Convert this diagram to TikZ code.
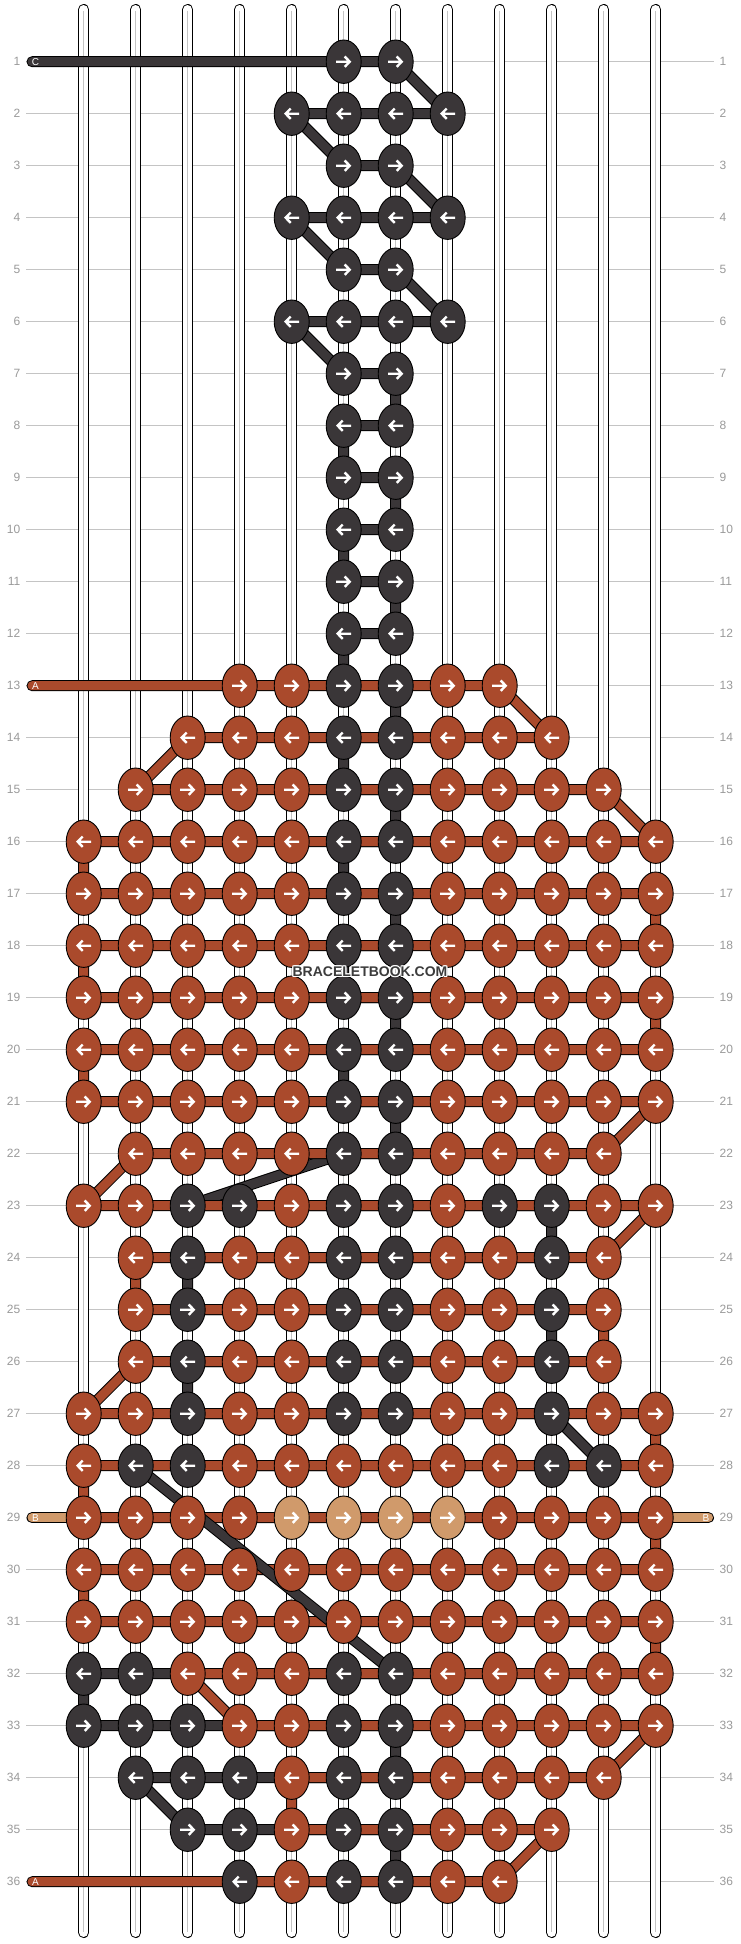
\documentclass[tikz,border=0pt]{standalone}
\usepackage{fontspec}
\setmainfont{Liberation Sans}
\usetikzlibrary{shapes.geometric}
\definecolor{cdark}{HTML}{3A3638}
\definecolor{crust}{HTML}{AA4A2C}
\definecolor{ctan}{HTML}{D09A6B}
\definecolor{cgrid}{HTML}{C4C4C4}
\definecolor{clab}{HTML}{9A9A9A}
\definecolor{cstr}{HTML}{C4C4C4}
\definecolor{cwm}{HTML}{3C3C3C}
\newcommand\mkknot[3]{%
  \node[knotnode=#3] (k-#1-#2) at (p-#1-#2) {};
  \ifodd#1\relax
    \draw[arrowline] (k-#1-#2.center) ++(-7.5,0) -- ++(13.5,0) (k-#1-#2.center) ++(1,-5.2) -- ++(5,5.2) -- ++(-5,5.2);
  \else
    \draw[arrowline] (k-#1-#2.center) ++(7.5,0) -- ++(-13.5,0) (k-#1-#2.center) ++(-1,-5.2) -- ++(-5,5.2) -- ++(5,5.2);
  \fi}
\newcommand\wmt{BRACELETBOOK.COM}
\newcommand\wmhalo{%
  \rlap{\color{white}\hspace*{-1.2pt}\wmt}\rlap{\color{white}\hspace*{1.2pt}\wmt}%
  \rlap{\color{white}\raisebox{1.2pt}{\wmt}}\rlap{\color{white}\raisebox{-1.2pt}{\wmt}}%
  \rlap{\color{white}\hspace*{-0.9pt}\raisebox{0.9pt}{\wmt}}\rlap{\color{white}\hspace*{0.9pt}\raisebox{0.9pt}{\wmt}}%
  \rlap{\color{white}\hspace*{-0.9pt}\raisebox{-0.9pt}{\wmt}}\rlap{\color{white}\hspace*{0.9pt}\raisebox{-0.9pt}{\wmt}}%
  {\color{cwm}\wmt}}
\begin{document}
\begin{tikzpicture}[x=1pt,y=-1pt,
  rowlab/.style={text=clab, font=\fontsize{12}{12}\selectfont, inner sep=0pt},
  gridline/.style={draw=cgrid, line width=1.3pt},
  stringout/.style={line width=11pt, line cap=round, draw=black},
  stringin/.style={line width=9pt, line cap=round, draw=white},
  stringmid/.style={line width=1.4pt, draw=cstr},
  thread/.style={line width=9pt, line cap=round, line join=round, draw=#1,
    preaction={draw=black, line width=11pt, line cap=round, line join=round}},
  knotnode/.style={ellipse, minimum width=35pt, minimum height=43.4pt, inner sep=0pt,
    draw=black, line width=0.9pt, fill=#1},
  arrowline/.style={draw=white, line width=2.4pt, line cap=butt, line join=miter},
  endlab/.style={text=white, font=\fontsize{10}{10}\selectfont, inner sep=0pt},
]
\useasboundingbox (0,0) rectangle (740,1944);
\fill[white] (0,0) rectangle (740,1944);

% grid coordinates, row lines and labels
\foreach \r in {1,...,36}{
  \pgfmathsetmacro\yy{61.7+52*(\r-1)}
  \foreach \c in {1,...,12}{\coordinate (p-\r-\c) at ({83.7+52*(\c-1)},\yy);}
  \coordinate (gl-\r) at (26,\yy);
  \coordinate (gr-\r) at (714,\yy);
  \draw[gridline] (gl-\r) -- (gr-\r);
  \node[rowlab, anchor=east] (ll-\r) at (20.5,\yy) {\r};
  \node[rowlab, anchor=west] (rl-\r) at (719.5,\yy) {\r};
}

% warp strings
\foreach \c in {1,...,12}{
  \pgfmathsetmacro\xx{83.7+52*(\c-1)}
  \coordinate (st-\c) at (\xx,9.5);
  \coordinate (sb-\c) at (\xx,1932.5);
  \draw[stringout] (st-\c) -- (sb-\c);
  \draw[stringin] (st-\c) -- (sb-\c);
  \draw[stringmid] ([yshift=-1pt]st-\c) -- ([yshift=1pt]sb-\c);
}

% thread ends
\coordinate (c-beg) at (32,61.7);
\coordinate (a-beg) at (32,685.7);
\coordinate (a-end) at (32,1881.7);
\coordinate (b-beg) at (32,1517.7);
\coordinate (b-end) at (708.5,1517.7);

% thread C
\draw[thread=cdark] (c-beg) -- (p-1-6) -- (p-1-7) -- (p-2-8) -- (p-2-5) -- (p-3-6) -- (p-3-7) -- (p-4-8) -- (p-4-5) -- (p-5-6) -- (p-5-7) -- (p-6-8) -- (p-6-5) -- (p-7-6) -- (p-7-7) -- (p-8-7) -- (p-8-6) -- (p-9-6) -- (p-9-7) -- (p-10-7) -- (p-10-6) -- (p-11-6) -- (p-11-7) -- (p-12-7) -- (p-12-6) -- (p-13-6) -- (p-13-7) -- (p-14-7) -- (p-14-6) -- (p-15-6) -- (p-15-7) -- (p-16-7) -- (p-16-6) -- (p-17-6) -- (p-17-7) -- (p-18-7) -- (p-18-6) -- (p-19-6) -- (p-19-7) -- (p-20-7) -- (p-20-6) -- (p-21-6) -- (p-21-7) -- (p-22-7) -- (p-22-6) -- (p-23-3) -- (p-23-10) -- (p-24-10) -- (p-24-3) -- (p-25-3) -- (p-25-10) -- (p-26-10) -- (p-26-3) -- (p-27-3) -- (p-27-10) -- (p-28-11) -- (p-28-2);
\draw[thread=cdark] (p-32-7) -- (p-32-1) -- (p-33-1) -- (p-33-7) -- (p-34-7) -- (p-34-2) -- (p-35-3) -- (p-35-7) -- (p-36-7) -- (p-36-4);

% thread B
\draw[thread=ctan] (b-beg) -- (b-end);

% thread A
\draw[thread=crust] (a-beg) -- (p-13-9) -- (p-14-10) -- (p-14-3) -- (p-15-2) -- (p-15-11) -- (p-16-12) -- (p-16-1) -- (p-17-1) -- (p-17-12) -- (p-18-12) -- (p-18-1) -- (p-19-1) -- (p-19-12) -- (p-20-12) -- (p-20-1) -- (p-21-1) -- (p-21-12) -- (p-22-11) -- (p-22-2) -- (p-23-1) -- (p-23-12) -- (p-24-11) -- (p-24-2) -- (p-25-2) -- (p-25-11) -- (p-26-11) -- (p-26-2) -- (p-27-1) -- (p-27-12) -- (p-28-12) -- (p-28-1) -- (p-29-1) -- (p-29-12) -- (p-30-12) -- (p-30-1) -- (p-31-1) -- (p-31-12) -- (p-32-12) -- (p-32-3) -- (p-33-4) -- (p-33-12) -- (p-34-11) -- (p-34-5) -- (p-35-5) -- (p-35-10) -- (p-36-9) -- (a-end);

% thread C long diagonal (on top)
\draw[thread=cdark] (p-28-2) -- (p-32-7);

% knots
\foreach \r/\cols/\col in {
  1/{6,7}/cdark, 2/{5,6,7,8}/cdark, 3/{6,7}/cdark, 4/{5,6,7,8}/cdark,
  5/{6,7}/cdark, 6/{5,6,7,8}/cdark, 7/{6,7}/cdark, 8/{6,7}/cdark,
  9/{6,7}/cdark, 10/{6,7}/cdark, 11/{6,7}/cdark, 12/{6,7}/cdark,
  13/{4,5,8,9}/crust, 13/{6,7}/cdark,
  14/{3,4,5,8,9,10}/crust, 14/{6,7}/cdark,
  15/{2,3,4,5,8,9,10,11}/crust, 15/{6,7}/cdark,
  16/{1,2,3,4,5,8,9,10,11,12}/crust, 16/{6,7}/cdark,
  17/{1,2,3,4,5,8,9,10,11,12}/crust, 17/{6,7}/cdark,
  18/{1,2,3,4,5,8,9,10,11,12}/crust, 18/{6,7}/cdark,
  19/{1,2,3,4,5,8,9,10,11,12}/crust, 19/{6,7}/cdark,
  20/{1,2,3,4,5,8,9,10,11,12}/crust, 20/{6,7}/cdark,
  21/{1,2,3,4,5,8,9,10,11,12}/crust, 21/{6,7}/cdark,
  22/{2,3,4,5,8,9,10,11}/crust, 22/{6,7}/cdark,
  23/{1,2,5,8,11,12}/crust, 23/{3,4,6,7,9,10}/cdark,
  24/{2,4,5,8,9,11}/crust, 24/{3,6,7,10}/cdark,
  25/{2,4,5,8,9,11}/crust, 25/{3,6,7,10}/cdark,
  26/{2,4,5,8,9,11}/crust, 26/{3,6,7,10}/cdark,
  27/{1,2,4,5,8,9,11,12}/crust, 27/{3,6,7,10}/cdark,
  28/{1,4,5,6,7,8,9,12}/crust, 28/{2,3,10,11}/cdark,
  29/{1,2,3,4,9,10,11,12}/crust, 29/{5,6,7,8}/ctan,
  30/{1,2,3,4,5,6,7,8,9,10,11,12}/crust,
  31/{1,2,3,4,5,6,7,8,9,10,11,12}/crust,
  32/{3,4,5,8,9,10,11,12}/crust, 32/{1,2,6,7}/cdark,
  33/{4,5,8,9,10,11,12}/crust, 33/{1,2,3,6,7}/cdark,
  34/{5,8,9,10,11}/crust, 34/{2,3,4,6,7}/cdark,
  35/{5,8,9,10}/crust, 35/{3,4,6,7}/cdark,
  36/{5,8,9}/crust, 36/{4,6,7}/cdark}{
  \foreach \c in \cols {\mkknot{\r}{\c}{\col}}
}

% thread end labels
\node[endlab] (lab-c) at (35.5,61.7) {C};
\node[endlab] (lab-a1) at (35.5,685.7) {A};
\node[endlab] (lab-a2) at (35.5,1881.7) {A};
\node[endlab] (lab-b1) at (35.5,1517.7) {B};
\node[endlab] (lab-b2) at (706,1517.7) {B};

% watermark
\node[font=\bfseries\fontsize{14}{14}\selectfont, inner sep=0pt] (wm) at (370,971.7) {\wmhalo};
\end{tikzpicture}
\end{document}
